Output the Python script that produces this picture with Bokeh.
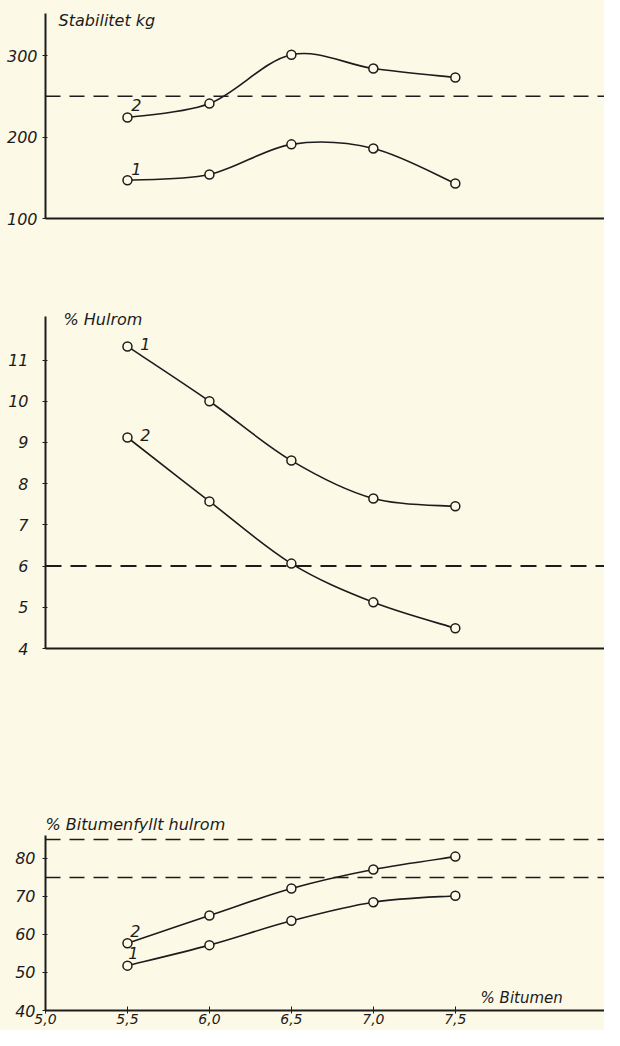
from bokeh.plotting import figure
from bokeh.models import Span, Label, FixedTicker, Range1d
from bokeh.layouts import column
from bokeh.embed import file_html
from bokeh.resources import INLINE
from bokeh.core.properties import value

# ---------------- data ----------------
bitumen = [5.5, 6.0, 6.5, 7.0, 7.5]
stab_1 = [147, 154, 191, 186, 143]
stab_2 = [224, 241, 301, 284, 273]
stab_limit = 250
hulrom_1 = [11.33, 10.0, 8.56, 7.64, 7.45]
hulrom_2 = [9.12, 7.57, 6.06, 5.12, 4.49]
hulrom_limit = 6
fyllt_1 = [51.8, 57.2, 63.6, 68.5, 70.2]
fyllt_2 = [57.7, 65.0, 72.1, 77.1, 80.5]
fyllt_limits = [85, 75]
x_ticks = [5.0, 5.5, 6.0, 6.5, 7.0, 7.5]
x_tick_labels = ["5,0", "5,5", "6,0", "6,5", "7,0", "7,5"]
stab_ticks = [100, 200, 300]
hulrom_ticks = [4, 5, 6, 7, 8, 9, 10, 11]
fyllt_ticks = [40, 50, 60, 70, 80]

BG = "#fcf9e6"
INK = "#1c1c1c"
FONT = "DejaVu Sans"
W = 604


def make_fig(height, y_range, bounds, b_top, b_bottom, yticks, xlabels, standoff):
    p = figure(width=W, height=height, x_range=Range1d(5.0, 8.41), y_range=Range1d(*y_range),
               output_backend="svg", toolbar_location=None,
               min_border_left=45, min_border_right=0, min_border_top=b_top,
               min_border_bottom=b_bottom, background_fill_color=BG,
               border_fill_color=BG, outline_line_color=None,
               styles={"background-color": BG})
    p.xgrid.visible = False
    p.ygrid.visible = False
    ya = p.yaxis[0]
    ya.bounds = bounds
    ya.ticker = FixedTicker(ticks=yticks)
    ya.axis_line_width = 2
    ya.axis_line_color = INK
    ya.major_tick_in = 2
    ya.major_tick_out = 3
    ya.major_tick_line_color = INK
    ya.minor_tick_line_color = None
    ya.major_label_standoff = standoff
    ya.major_label_text_font = FONT
    ya.major_label_text_font_style = "italic"
    ya.major_label_text_font_size = "16px"
    ya.major_label_text_color = INK
    xa = p.xaxis[0]
    xa.axis_line_width = 2
    xa.axis_line_color = INK
    xa.minor_tick_line_color = None
    if xlabels:
        xa.ticker = FixedTicker(ticks=x_ticks)
        xa.major_label_overrides = dict(zip(x_ticks, x_tick_labels))
        xa.major_tick_in = 4
        xa.major_tick_out = 3
        xa.major_tick_line_color = INK
        xa.major_label_standoff = 0
        xa.major_label_text_font = FONT
        xa.major_label_text_font_style = "italic"
        xa.major_label_text_font_size = "14px"
        xa.major_label_text_color = INK
    else:
        xa.ticker = FixedTicker(ticks=[])
        xa.major_tick_line_color = None
    return p


def smooth_curve(p, xs, ys):
    n = len(xs)
    d = dict(x0=[], y0=[], x1=[], y1=[], cx0=[], cy0=[], cx1=[], cy1=[])
    for i in range(n - 1):
        a = i - 1 if i > 0 else i
        b = i + 2 if i + 2 < n else i + 1
        d["x0"].append(xs[i]); d["y0"].append(ys[i])
        d["x1"].append(xs[i + 1]); d["y1"].append(ys[i + 1])
        d["cx0"].append(xs[i] + (xs[i + 1] - xs[a]) / 6)
        d["cy0"].append(ys[i] + (ys[i + 1] - ys[a]) / 6)
        d["cx1"].append(xs[i + 1] - (xs[b] - xs[i]) / 6)
        d["cy1"].append(ys[i + 1] - (ys[b] - ys[i]) / 6)
    p.bezier(line_color=INK, line_width=1.6, **d)
    p.scatter(xs, ys, marker="circle", size=9, fill_color=BG, line_color=INK, line_width=1.5)


def series_label(p, xs, ys, txt, dx, dy):
    p.text(x=[xs[0]], y=[ys[0]], text=[txt], x_offset=dx, y_offset=dy,
           text_align="center", text_baseline="middle", text_font=value(FONT),
           text_font_style="italic", text_font_size="16px", text_color=INK)


def title(p, x, y, txt, size="16px"):
    p.add_layout(Label(x=x, y=y, text=txt, text_align="left",
                       text_baseline="middle", text_font=FONT, text_font_style="italic",
                       text_font_size=size, text_color=INK))


# ---------------- top: Stabilitet ----------------
p1 = make_fig(250, (100, 367.5), (100, 351), 0, 32, stab_ticks, False, 5)
p1.add_layout(Span(location=stab_limit, dimension="width", line_color=INK,
                   line_width=1.6, line_dash="15 9"))
smooth_curve(p1, bitumen, stab_1)
smooth_curve(p1, bitumen, stab_2)
series_label(p1, bitumen, stab_1, "1", 9, -11)
series_label(p1, bitumen, stab_2, "2", 9, -12)
title(p1, 5.08, 343, "Stabilitet  kg")

# ---------------- middle: Hulrom ----------------
p2 = make_fig(450, (4, 12.59), (4, 12.05), 44, 52, hulrom_ticks, False, 14)
p2.add_layout(Span(location=hulrom_limit, dimension="width", line_color=INK,
                   line_width=2, line_dash="16 9"))
smooth_curve(p2, bitumen, hulrom_1)
smooth_curve(p2, bitumen, hulrom_2)
series_label(p2, bitumen, hulrom_1, "1", 18, -2)
series_label(p2, bitumen, hulrom_2, "2", 18, -3)
title(p2, 5.11, 11.99, "% Hulrom")

# ---------------- bottom: Bitumenfyllt hulrom ----------------
p3 = make_fig(330, (40, 95.26), (40, 86), 100, 20, fyllt_ticks, True, 7)
for lim in fyllt_limits:
    p3.add_layout(Span(location=lim, dimension="width", line_color=INK,
                       line_width=1.6, line_dash="15 9"))
smooth_curve(p3, bitumen, fyllt_1)
smooth_curve(p3, bitumen, fyllt_2)
series_label(p3, bitumen, fyllt_1, "1", 6, -13)
series_label(p3, bitumen, fyllt_2, "2", 8, -12)
title(p3, 5.0, 88.9, "% Bitumenfyllt  hulrom")
title(p3, 7.654, 43.4, "% Bitumen", "15px")

layout = column(p1, p2, p3, spacing=0, styles={"background-color": BG})
open("out.html", "w").write(file_html(layout, INLINE))
